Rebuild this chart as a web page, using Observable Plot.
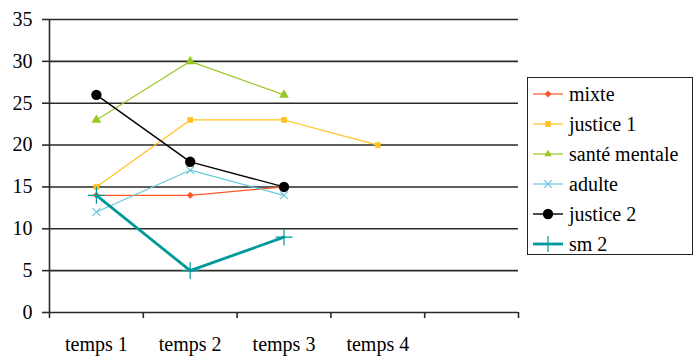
<!DOCTYPE html>
<html><head><meta charset="utf-8">
<script src="https://cdn.jsdelivr.net/npm/d3@7"></script>
<script src="https://cdn.jsdelivr.net/npm/@observablehq/plot@0.6"></script>
<style>
body{margin:0;background:#fff;}
#wrap{position:relative;width:700px;height:362px;font-family:'Liberation Serif';}
#legend{position:absolute;left:527px;top:77px;width:164px;height:176px;border:1px solid #222;background:#fff;}
.row{position:absolute;left:5px;height:30px;display:flex;align-items:center;font-size:20px;color:#000;white-space:nowrap;font-family:'Liberation Serif';}
.row svg{margin-right:5px;}
</style>
</head><body><div id="wrap"><div id="legend"></div></div>
<script>
const categories = ["temps 1", "temps 2", "temps 3", "temps 4", ""];
const seriesNames = ["mixte", "justice 1", "sant\u00e9 mentale", "adulte", "justice 2", "sm 2"];
const mixte = [14, 14, 15];
const justice1 = [15, 23, 23, 20];
const santeMentale = [23, 30, 26];
const adulte = [12, 17, 14];
const justice2 = [26, 18, 15];
const sm2 = [14, 5, 9];
const yTicks = [0, 5, 10, 15, 20, 25, 30, 35];
const colors = ["#ff5a28", "#ffc21e", "#99c824", "#66c8dc", "#000000", "#009999"];
const symbols = ["diamond2", "square", "triangle", "times", "circle", "plus"];
const filled = [true, true, true, false, true, false];
const radii = [3.2, 3.2, 3.6, 3.6, 5.2, 5.5];
const widths = [1.2, 1.2, 1.2, 1.2, 1.4, 2.8];

const values = [mixte, justice1, santeMentale, adulte, justice2, sm2];
const data = values.flatMap((arr, s) => arr.map((v, i) => ({series: seriesNames[s], s, x: i + 0.5, y: v})));

const font = "Liberation Serif";
const marks = [
  Plot.ruleY(yTicks, {stroke: "#2a2a2a", strokeWidth: 1.6}),
  Plot.ruleX([0], {stroke: "#2a2a2a", strokeWidth: 1.6}),
  Plot.axisY({ticks: yTicks, tickSize: 7, tickPadding: 10, fontSize: 20, stroke: "#2a2a2a", strokeWidth: 1.6, label: null, color: "#000"}),
  Plot.axisX({ticks: d3.range(0, categories.length + 1), tickSize: 6, tickFormat: () => "", stroke: "#2a2a2a", strokeWidth: 1.6, label: null}),
  Plot.axisX({ticks: categories.map((c, i) => i + 0.5).filter((d, i) => categories[i] !== ""), tickSize: 0, tickPadding: 24, tickFormat: d => categories[Math.floor(d)], fontSize: 20, label: null, color: "#000"})
];
seriesNames.forEach((name, s) => {
  const sub = data.filter(d => d.s === s);
  marks.push(Plot.line(sub, {x: "x", y: "y", stroke: colors[s], strokeWidth: widths[s]}));
  marks.push(Plot.dot(sub, filled[s]
    ? {x: "x", y: "y", symbol: () => symbols[s], r: radii[s], fill: colors[s], stroke: "none"}
    : {x: "x", y: "y", symbol: () => symbols[s], r: radii[s], stroke: colors[s], strokeWidth: 1.2, fill: "none"}));
});

const chart = Plot.plot({
  width: 700, height: 362,
  marginLeft: 49, marginRight: 182, marginTop: 19, marginBottom: 50,
  x: {domain: [0, categories.length], axis: null},
  y: {domain: [0, 35], axis: null},
  symbol: {type: "identity"},
  style: {background: "#fff", fontFamily: "'Liberation Serif'"},
  marks
});
document.getElementById("wrap").prepend(chart);

// legend
const legend = document.getElementById("legend");
const symMap = {diamond2: d3.symbolDiamond2, square: d3.symbolSquare, triangle: d3.symbolTriangle2, times: d3.symbolTimes, circle: d3.symbolCircle, plus: d3.symbolPlus};
seriesNames.forEach((name, s) => {
  const row = document.createElement("div");
  row.className = "row";
  row.style.top = (1 + s * 30) + "px";
  const svg = d3.create("svg").attr("width", 31).attr("height", 16);
  svg.append("line").attr("x1", 0).attr("x2", 30).attr("y1", 8).attr("y2", 8).attr("stroke", colors[s]).attr("stroke-width", widths[s]);
  const r = radii[s];
  const path = svg.append("path").attr("transform", "translate(15,8)").attr("d", d3.symbol(symMap[symbols[s]], Math.PI * r * r)());
  if (filled[s]) path.attr("fill", colors[s]); else path.attr("fill", "none").attr("stroke", colors[s]).attr("stroke-width", 1.2);
  row.append(svg.node());
  const t = document.createElement("span");
  t.textContent = name;
  row.append(t);
  legend.append(row);
});
document.querySelectorAll("#wrap text, #wrap span, #wrap g").forEach(el => el.style.setProperty("font-family", "'Liberation Serif'", "important"));
</script></body></html>
